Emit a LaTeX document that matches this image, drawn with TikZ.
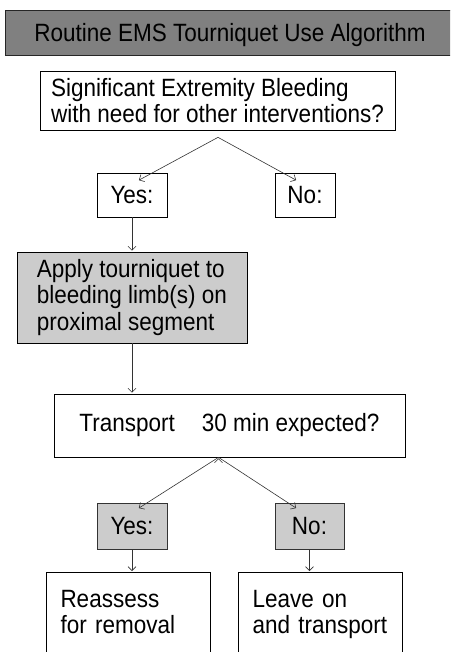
\documentclass[tikz,border=0pt]{standalone}
\usepackage{fontspec}
\setmainfont[FakeStretch=0.9]{Liberation Sans}
\usetikzlibrary{arrows.meta}

\begin{document}
\begin{tikzpicture}[x=1pt,y=-1pt,->,>={Straight Barb[length=4pt,width=8pt]},
    shorten >=1pt,
    every node/.style={font=\fontsize{25}{26.5}\selectfont},
    box/.style={rectangle,draw=black,line width=0.7pt,inner sep=0pt,
      minimum height=44pt},
    grey box/.style={box,fill=black!20,draw=black!80},
    text box/.style={box,align=left},
    end box/.style={box,align=left,text width=135pt,inner xsep=14.5pt,
      inner ysep=0pt,anchor=north,text height=35pt,text depth=60pt},
    link/.style={draw=black!80,line width=0.6pt}]
    \useasboundingbox (0,0) rectangle (450,652);
    \clip (0,0) rectangle (450,652);

    \node[box,fill=black!50,draw=black!85,minimum width=450pt,
      minimum height=45pt,text depth=0pt] (title) at (230,32.5)
      {Routine EMS Tourniquet Use Algorithm};
    \node[text box,minimum width=355pt,minimum height=59pt,
      text height=44.5pt,text depth=0pt] (bleed) at (217.5,100.5)
      {Significant Extremity Bleeding\\with need for other interventions?};
    \node[box,minimum width=70pt] (yes1) at (132,195) {Yes:};
    \node[box,minimum width=60pt] (no1) at (305,195) {No:};
    \node[grey box,text box,minimum width=230pt,minimum height=91pt,
      text height=71pt,text depth=6pt] (apply) at (132,297.5)
      {Apply tourniquet to\\bleeding limb(s) on\\proximal segment};
    \node[box,minimum width=351pt,minimum height=63pt] (transport)
      at (229.5,425.5) {Transport\hspace{27pt}30 min expected?};
    \node[grey box,minimum width=70pt,minimum height=46pt] (yes2)
      at (132,526) {Yes:};
    \node[grey box,minimum width=69pt,minimum height=46pt] (no2)
      at (309.5,526) {No:};
    \node[end box] (reassess) at (128,572) {Reassess\\for removal};
    \node[end box] (leave) at (320,572) {Leave on\\and transport};

    \path[link]
    ([xshift=0.5pt,yshift=-7pt]bleed.south)
        edge ([xshift=6pt,yshift=-8pt]yes1.north)
        edge ([xshift=-8pt,yshift=-8pt]no1.north)
    (yes1) edge (apply)
    (apply) edge (transport.north -| apply)
    ([xshift=-11pt]transport.south)
        edge ([xshift=6pt,yshift=-6pt]yes2.north)
        edge ([xshift=-12.5pt,yshift=-6pt]no2.north)
    (yes2) edge (yes2 |- reassess.north)
    (no2) edge (no2 |- leave.north);
\end{tikzpicture}
\end{document}
